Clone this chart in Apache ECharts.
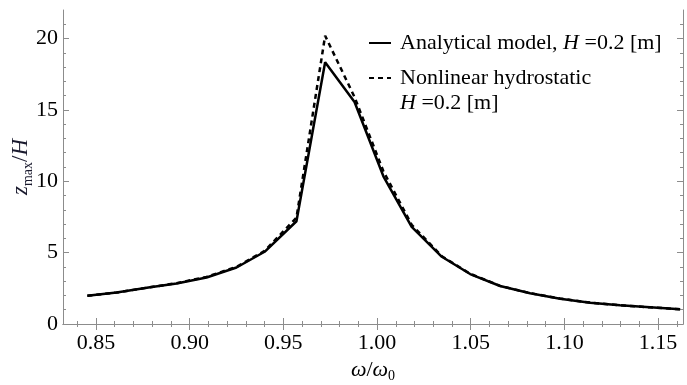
<!DOCTYPE html>
<html>
<head>
<meta charset="utf-8">
<script src="https://cdn.jsdelivr.net/npm/echarts@6/dist/echarts.min.js"></script>
<style>html,body{margin:0;padding:0;background:#fff}#c{width:687px;height:385px}</style>
</head>
<body>
<div id="c"></div>
<script>
// ---- data ----
var omegaRatio = [0.8454, 0.861, 0.878, 0.893, 0.909, 0.925, 0.940, 0.957, 0.9723, 0.988, 1.0034, 1.0185, 1.0346, 1.0497, 1.0657, 1.0817, 1.0977, 1.1137, 1.1297, 1.1457, 1.1618];
var analytical = [1.98, 2.2, 2.55, 2.84, 3.26, 3.96, 5.06, 7.2, 18.34, 15.55, 10.35, 6.8, 4.71, 3.5, 2.66, 2.15, 1.77, 1.49, 1.31, 1.17, 1.03];
var nonlinear  = [1.98, 2.2, 2.56, 2.86, 3.3, 4.0, 5.12, 7.45, 20.2, 15.9, 10.7, 6.95, 4.75, 3.52, 2.67, 2.16, 1.78, 1.5, 1.31, 1.17, 1.03];
var xMajorTicks = [0.85, 0.90, 0.95, 1.00, 1.05, 1.10, 1.15];
var xMinorTicks = [0.84, 0.86, 0.87, 0.88, 0.89, 0.91, 0.92, 0.93, 0.94, 0.96, 0.97, 0.98, 0.99, 1.01, 1.02, 1.03, 1.04, 1.06, 1.07, 1.08, 1.09, 1.11, 1.12, 1.13, 1.14, 1.16];
var yMajorTicks = [0, 5, 10, 15, 20];
var yMinorTicks = [1, 2, 3, 4, 6, 7, 8, 9, 11, 12, 13, 14, 16, 17, 18, 19, 21];
var seriesNames = ['Analytical model, H =0.2 [m]', 'Nonlinear hydrostatic H =0.2 [m]'];

function pairs(xs, ys) { return xs.map(function (x, i) { return [x, ys[i]]; }); }

var FONT = 'Liberation Serif';
var FRAME = '#8c8c8c';
var xMin = 0.8324, xMax = 1.1633, yMin = 0, yMax = 22;

function xAx(pos, ticks, len, labels, line) {
  return {
    type: 'value', position: pos, min: xMin, max: xMax,
    axisLine: { show: line, lineStyle: { color: FRAME, width: 1 } },
    axisTick: { show: true, inside: true, length: len, customValues: ticks, lineStyle: { color: FRAME, width: 1 } },
    axisLabel: labels ? { show: true, customValues: ticks, margin: 8, color: '#000', fontFamily: FONT, fontSize: 22,
      formatter: function (v) { return v.toFixed(2); } } : { show: false },
    splitLine: { show: false }
  };
}
function yAx(pos, ticks, len, labels, line) {
  return {
    type: 'value', position: pos, min: yMin, max: yMax,
    axisLine: { show: line, lineStyle: { color: FRAME, width: 1 } },
    axisTick: { show: true, inside: true, length: len, customValues: ticks, lineStyle: { color: FRAME, width: 1 } },
    axisLabel: labels ? { show: true, customValues: ticks, margin: 5, color: '#000', fontFamily: FONT, fontSize: 22 } : { show: false },
    splitLine: { show: false }
  };
}

var xAxes = [xAx('bottom', xMajorTicks, 6, true, true), xAx('bottom', xMinorTicks, 3, false, false),
             xAx('top', xMajorTicks, 6, false, true), xAx('top', xMinorTicks, 3, false, false)];
xAxes[0].name = '{i|ω}{n|/}{i|ω}{s|0}';
xAxes[0].nameLocation = 'middle';
xAxes[0].nameGap = 32;
xAxes[0].nameTextStyle = { fontFamily: FONT, color: '#000', rich: {
  i: { fontFamily: FONT, fontStyle: 'italic', fontSize: 22, lineHeight: 26, color: '#000' },
  n: { fontFamily: FONT, fontSize: 22, lineHeight: 26, color: '#000' },
  s: { fontFamily: FONT, fontSize: 14, lineHeight: 14, verticalAlign: 'bottom', color: '#000' } } };

var yAxes = [yAx('left', yMajorTicks, 6, true, true), yAx('left', yMinorTicks, 3, false, false),
             yAx('right', yMajorTicks, 6, false, true), yAx('right', yMinorTicks, 3, false, false)];
yAxes[0].name = '{i|z}{s|max}{n|/}{i|H}';
yAxes[0].nameLocation = 'middle';
yAxes[0].nameRotate = 90;
yAxes[0].nameGap = 28;
yAxes[0].nameMoveOverlap = false;
yAxes[0].nameTextStyle = { fontFamily: FONT, color: '#000', rich: {
  i: { fontFamily: FONT, fontStyle: 'italic', fontSize: 23, lineHeight: 28, color: '#1a1a2e' },
  n: { fontFamily: FONT, fontSize: 23, lineHeight: 28, color: '#1a1a2e' },
  s: { fontFamily: FONT, fontSize: 14, lineHeight: 14, verticalAlign: 'bottom', color: '#1a1a2e' } } };

var legRich = {
  t: { fontFamily: FONT, fontSize: 22, lineHeight: 25, color: '#000' },
  i: { fontFamily: FONT, fontSize: 22, lineHeight: 25, fontStyle: 'italic', color: '#000' }
};

var chart = echarts.init(document.getElementById('c'), null, { renderer: 'canvas' });
chart.setOption({
  animation: false,
  backgroundColor: '#fff',
  grid: { left: 63, right: 4, top: 10, bottom: 61, containLabel: false, outerBoundsMode: 'none' },
  xAxis: xAxes,
  yAxis: yAxes,
  legend: [
    { data: [seriesNames[0]], left: 363, top: 27, orient: 'vertical', itemWidth: 22, itemHeight: 14,
      itemStyle: { opacity: 0 },
      textStyle: { fontFamily: FONT, fontSize: 22, padding: [0, 0, 0, 4], rich: legRich },
      formatter: function () { return '{t|Analytical model, }{i|H}{t| =0.2 [m]}'; } },
    { data: [seriesNames[1]], left: 363, top: 37, orient: 'vertical', itemWidth: 22, itemHeight: 14,
      itemStyle: { opacity: 0 },
      textStyle: { fontFamily: FONT, fontSize: 22, padding: [0, 0, 0, 4], rich: legRich },
      formatter: function () { return '{t| }\n{t|Nonlinear hydrostatic}\n{i|H}{t| =0.2 [m]}'; } }
  ],
  series: [
    { name: seriesNames[0], type: 'line', xAxisIndex: 0, yAxisIndex: 0, data: pairs(omegaRatio, analytical),
      symbol: 'none', lineStyle: { color: '#000', width: 2.5, type: 'solid' }, itemStyle: { color: '#000' }, z: 3 },
    { name: seriesNames[1], type: 'line', xAxisIndex: 0, yAxisIndex: 0, data: pairs(omegaRatio, nonlinear),
      symbol: 'none', lineStyle: { color: '#000', width: 2.5, type: [5, 4] }, itemStyle: { color: '#000' }, z: 2 }
  ]
});
</script>
</body>
</html>
